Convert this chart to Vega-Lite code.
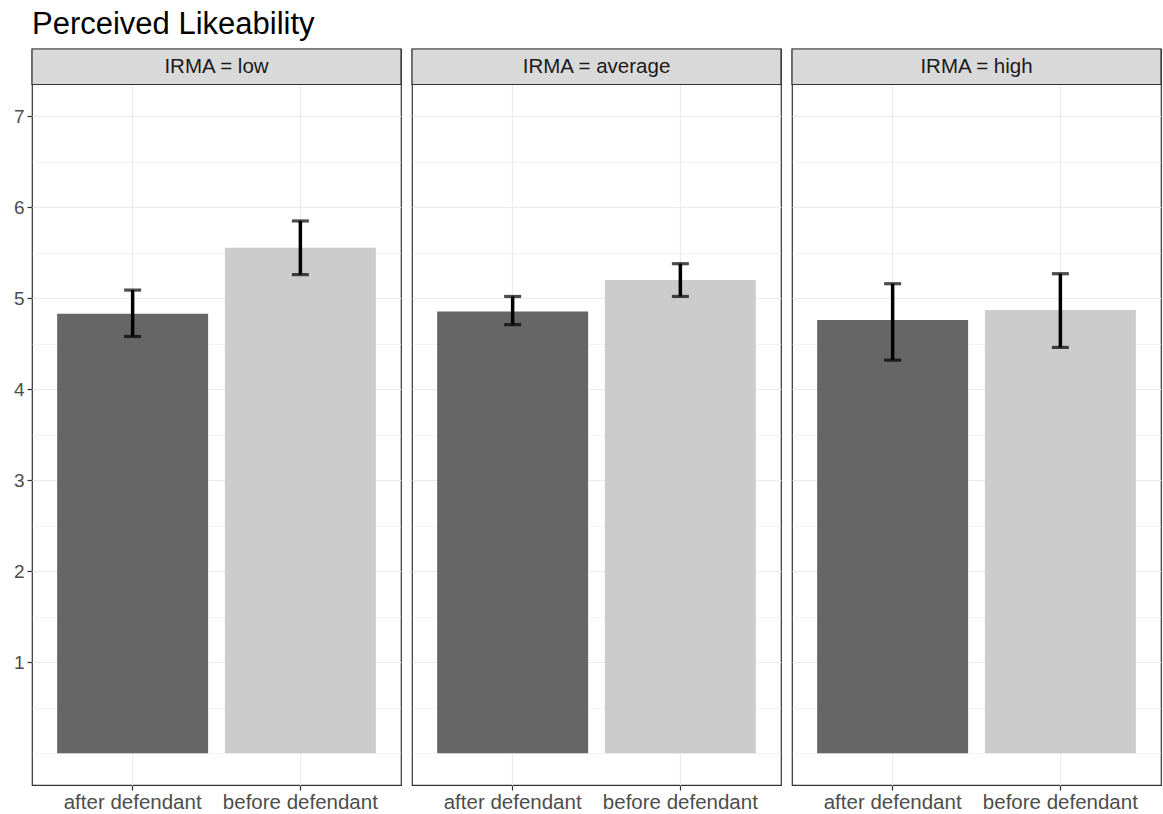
{
  "$schema": "https://vega.github.io/schema/vega-lite/v6.json",
  "padding": {"top": 8, "left": 13, "right": 1, "bottom": 0},
  "bounds": "flush",
  "title": {"text": "Perceived Likeability", "anchor": "start", "frame": "group", "fontSize": 31, "font": "Liberation Sans", "fontWeight": "normal", "color": "#000000", "offset": 7},
  "data": {"values": [
    {"IRMA": "IRMA = low", "condition": "after defendant", "mean": 4.83, "lo": 4.58, "hi": 5.09},
    {"IRMA": "IRMA = low", "condition": "before defendant", "mean": 5.556, "lo": 5.26, "hi": 5.85},
    {"IRMA": "IRMA = average", "condition": "after defendant", "mean": 4.855, "lo": 4.71, "hi": 5.02},
    {"IRMA": "IRMA = average", "condition": "before defendant", "mean": 5.20, "lo": 5.02, "hi": 5.38},
    {"IRMA": "IRMA = high", "condition": "after defendant", "mean": 4.76, "lo": 4.32, "hi": 5.16},
    {"IRMA": "IRMA = high", "condition": "before defendant", "mean": 4.87, "lo": 4.46, "hi": 5.27}
  ]},
  "facet": {"column": {"field": "IRMA", "type": "nominal", "sort": ["IRMA = low", "IRMA = average", "IRMA = high"], "header": {"labels": false, "title": null}}},
  "spacing": {"column": 11},
  "spec": {
    "width": 369,
    "height": 736,
    "layer": [
      {
        "mark": {"type": "bar"},
        "encoding": {
          "x": {"field": "condition", "type": "nominal", "title": null,
            "scale": {"paddingInner": 0.1, "paddingOuter": 0.15},
            "axis": {"labelAngle": 0, "labelFontSize": 20.5, "labelColor": "#4D4D4D", "labelPadding": 2, "tickSize": 5, "tickColor": "#333333", "tickWidth": 1.2, "domain": false, "grid": true, "tickBand": "center", "gridColor": "#EBEBEB", "gridWidth": 1.2}},
          "y": {"field": "mean", "type": "quantitative", "title": null,
            "scale": {"domain": [-0.35, 7.74], "nice": false, "zero": false},
            "axis": {"values": [0, 0.5, 1, 1.5, 2, 2.5, 3, 3.5, 4, 4.5, 5, 5.5, 6, 6.5, 7],
              "labelExpr": "(datum.value % 1 === 0 && datum.value > 0) ? format(datum.value, 'd') : ''",
              "labelFontSize": 19, "labelColor": "#4D4D4D", "labelPadding": 3, "tickSize": 5, "domain": false,
              "tickColor": {"condition": {"test": "datum.value % 1 === 0 && datum.value > 0", "value": "#333333"}, "value": "rgba(0,0,0,0)"},
              "tickWidth": 1.2,
              "grid": true, "gridColor": "#EBEBEB",
              "gridWidth": {"condition": {"test": "datum.value % 1 === 0 && datum.value > 0", "value": 1.2}, "value": 0.6}}},
          "color": {"field": "condition", "type": "nominal", "legend": null,
            "scale": {"domain": ["after defendant", "before defendant"], "range": ["#666666", "#CCCCCC"]}}
        }
      },
      {
        "mark": {"type": "rule", "color": "#000000", "strokeWidth": 3.5},
        "encoding": {"x": {"field": "condition", "type": "nominal"}, "y": {"field": "lo", "type": "quantitative"}, "y2": {"field": "hi"}}
      },
      {
        "mark": {"type": "tick", "color": "#000000", "size": 17, "thickness": 3.2},
        "encoding": {"x": {"field": "condition", "type": "nominal"}, "y": {"field": "lo", "type": "quantitative"}}
      },
      {
        "mark": {"type": "tick", "color": "#000000", "size": 17, "thickness": 3.2},
        "encoding": {"x": {"field": "condition", "type": "nominal"}, "y": {"field": "hi", "type": "quantitative"}}
      },
      {
        "transform": [{"filter": "datum.condition === 'after defendant'"}],
        "mark": {"type": "rect", "fill": "#D9D9D9", "stroke": "#333333", "strokeWidth": 1.2},
        "encoding": {"y": {"datum": 7.35, "type": "quantitative"}, "y2": {"datum": 7.74}}
      },
      {
        "transform": [{"filter": "datum.condition === 'after defendant'"}],
        "mark": {"type": "text", "fontSize": 20.5, "color": "#1A1A1A", "baseline": "middle", "align": "center"},
        "encoding": {"y": {"datum": 7.545, "type": "quantitative"}, "text": {"field": "IRMA", "type": "nominal"}}
      }
    ]
  },
  "config": {
    "font": "Liberation Sans",
    "view": {"stroke": "#333333", "strokeWidth": 1.2},
    "axis": {"labelFont": "Liberation Sans"}
  }
}
